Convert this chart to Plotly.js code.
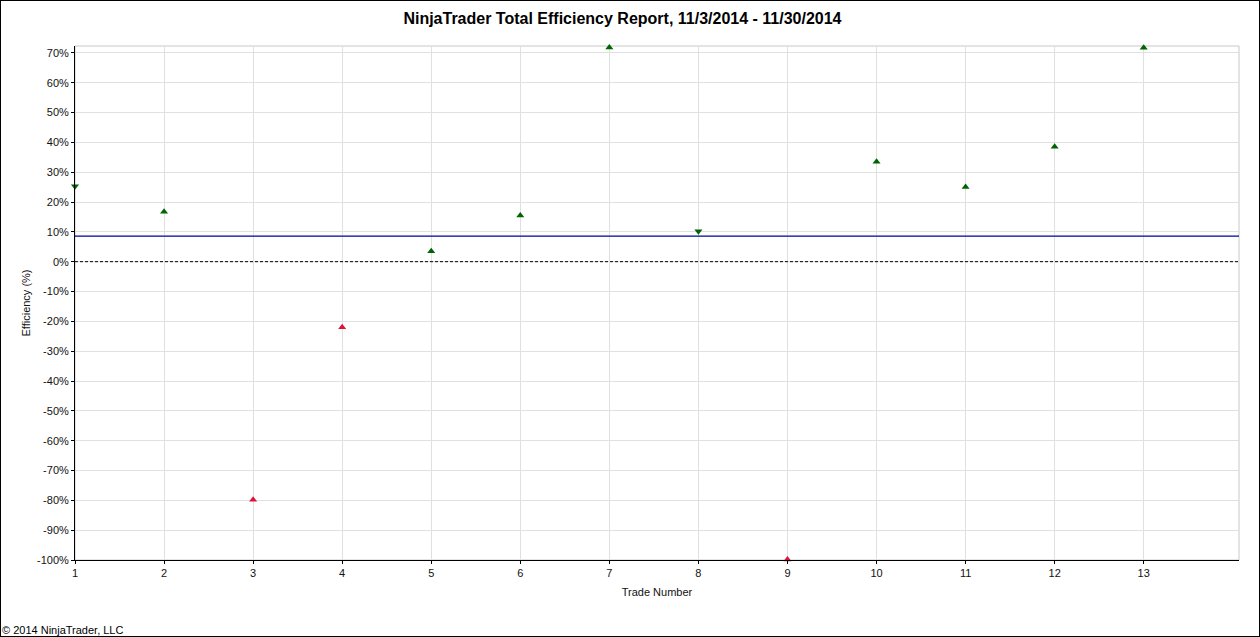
<!DOCTYPE html>
<html>
<head>
<meta charset="utf-8">
<script src="https://cdn.plot.ly/plotly-3.0.1.min.js"></script>
<style>
  body { margin: 0; background: #fff; }
  #chart { width: 1258px; height: 635px; border: 1px solid #000; }
</style>
</head>
<body>
<div id="chart"></div>
<script>
// Trade numbers and efficiency
var trades = [1, 2, 3, 4, 5, 6, 7, 8, 9, 10, 11, 12, 13]
var efficiency = [25.3, 16.7, -79.8, -22, 3.5, 15.5, 71.8, 10.2, -99.8, 33.5, 25, 38.5, 71.7]
var symbols = ['triangle-down', 'triangle-up', 'triangle-up', 'triangle-up', 'triangle-up', 'triangle-up',
  'triangle-up', 'triangle-down', 'triangle-up', 'triangle-up', 'triangle-up', 'triangle-up', 'triangle-up']
var averageEfficiency = 8.6

var yTicks = [-100, -90, -80, -70, -60, -50, -40, -30, -20, -10, 0, 10, 20, 30, 40, 50, 60, 70]
var yLabels = yTicks.map(function (v) { return v + '%' })

var colors = efficiency.map(function (v) { return v < 0 ? '#dc143c' : '#006400' })

var pts = {
  x: trades,
  y: efficiency,
  mode: 'markers',
  type: 'scatter',
  cliponaxis: false,
  marker: { symbol: symbols, color: colors, size: 7 },
  hoverinfo: 'x+y'
}

var layout = {
  width: 1258,
  height: 635,
  margin: { l: 74, r: 20, t: 45, b: 76 },
  paper_bgcolor: '#fff',
  plot_bgcolor: '#fff',
  showlegend: false,
  font: { family: 'Liberation Sans, Arial, sans-serif', size: 11, color: '#111' },
  title: {
    text: '<b>NinjaTrader Total Efficiency Report, 11/3/2014 - 11/30/2014</b>',
    font: { size: 16, color: '#000' },
    x: 0.494, xanchor: 'center', y: 0.972, yanchor: 'middle'
  },
  xaxis: {
    range: [1, 14.07],
    tickvals: trades,
    ticks: 'outside', ticklen: 3, tickcolor: '#000',
    showline: true, linecolor: '#000', linewidth: 1,
    gridcolor: '#e0e0e0', zeroline: false,
    title: { text: 'Trade Number', font: { size: 11 }, standoff: 10 }
  },
  yaxis: {
    range: [-100, 72.3],
    tickvals: yTicks,
    ticktext: yLabels,
    ticks: 'outside', ticklen: 3, tickcolor: '#000',
    showline: true, linecolor: '#000', linewidth: 1,
    gridcolor: '#e0e0e0', zeroline: false,
    title: { text: 'Efficiency (%)', font: { size: 11 }, standoff: 4 }
  },
  shapes: [
    { type: 'rect', xref: 'paper', yref: 'paper', x0: 0, x1: 1, y0: 0, y1: 1,
      line: { color: '#c8c8c8', width: 1 }, layer: 'below' },
    { type: 'line', xref: 'paper', yref: 'y', x0: 0, x1: 1, y0: 0, y1: 0,
      line: { color: '#000', width: 1, dash: '3px,2px' } },
    { type: 'line', xref: 'paper', yref: 'y', x0: 0, x1: 1, y0: averageEfficiency, y1: averageEfficiency,
      line: { color: '#0000a0', width: 1.3 } }
  ],
  annotations: [
    { text: '© 2014 NinjaTrader, LLC', xref: 'paper', yref: 'paper', x: -0.0645, y: -0.136,
      xanchor: 'left', yanchor: 'middle', showarrow: false, font: { size: 11, color: '#000' } }
  ]
}

Plotly.newPlot('chart', [pts], layout, { displayModeBar: false, staticPlot: true })
</script>
</body>
</html>
